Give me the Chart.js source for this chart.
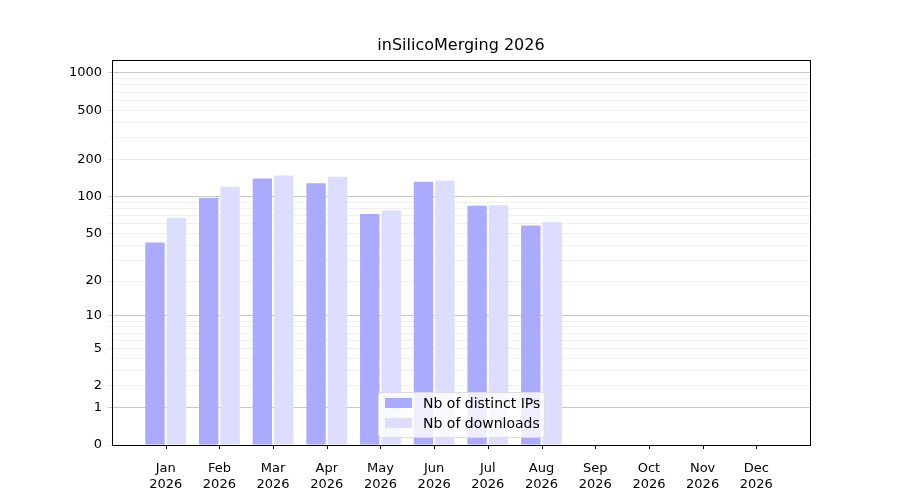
<!DOCTYPE html>
<html><head><meta charset="utf-8">
<script src="https://cdn.jsdelivr.net/npm/chart.js@4"></script>
<style>body{margin:0;background:#fff}#w{position:relative;width:900px;height:500px}
#t{position:absolute;left:311px;width:300px;top:35px;text-align:center;font:16px "DejaVu Sans";color:#000}
#lg{position:absolute;left:378px;top:392px;width:165px;height:44px;background:rgba(255,255,255,0.8);border:1px solid #ddd;border-radius:3px;font:14px "DejaVu Sans";color:#000}
#lg div{display:flex;align-items:center;height:20px;margin-left:6px}#lg span{display:inline-block;width:27px;height:10px;margin-right:11px}</style>
</head><body><div id="w"><canvas id="c" width="900" height="500"></canvas>
<div id="t">inSilicoMerging 2026</div>
<div id="lg"><div><span style="background:#aaaaff"></span>Nb of distinct IPs</div><div><span style="background:#ddddff"></span>Nb of downloads</div></div></div>
<script>
const months=["Jan","Feb","Mar","Apr","May","Jun","Jul","Aug","Sep","Oct","Nov","Dec"];
const year="2026";
const ips=[42,97,140,128,72,132,84,58,null,null,null,null];
const downloads=[67,120,148,145,77,135,85,62,null,null,null,null];
const tickValues=[0,1,2,5,10,20,50,100,200,500,1000];
const minorValues=[3,4,6,7,8,9,30,40,60,70,80,90,300,400,600,700,800,900];
const tf=v=>v==null?null:Math.log10(1+v);
const pad=a=>[null,...a,null];
const labels=['',...months.map(m=>[m,year]),''];
const frame={id:'frame',afterDraw(c){const a=c.chartArea,x=c.ctx;x.save();x.strokeStyle='#000';x.lineWidth=1;x.strokeRect(a.left+.5,a.top+.5,a.right-a.left,a.bottom-a.top);
x.beginPath();c.scales.x.ticks.forEach((t,i)=>{if(i==0||i==labels.length-1)return;const p=Math.round(c.scales.x.getPixelForTick(i))+.5;x.moveTo(p,a.bottom);x.lineTo(p,a.bottom+4);});x.stroke();x.restore();}};
new Chart(document.getElementById('c'),{type:'bar',
data:{labels:labels,datasets:[
{label:'Nb of distinct IPs',data:pad(ips).map(tf),backgroundColor:'#aaaaff'},
{label:'Nb of downloads',data:pad(downloads).map(tf),backgroundColor:'#ddddff'}]},
options:{responsive:false,animation:false,layout:{padding:{right:90,top:60}},
plugins:{legend:{display:false},tooltip:{enabled:false},title:{display:false}},
scales:{x:{offset:false,grid:{display:false},border:{display:false},ticks:{color:'#000',font:{family:'DejaVu Sans',size:13},padding:8,autoSkip:false,maxRotation:0},categoryPercentage:0.82,barPercentage:1,
afterFit(s){s.height=55;}},
y:{min:0,max:3.105,border:{display:false},afterFit(s){s.width=112;},
afterBuildTicks(s){s.ticks=tickValues.map(v=>({value:tf(v),major:true})).concat(minorValues.map(v=>({value:tf(v),minor:true})));},
ticks:{color:'#000',font:{family:'DejaVu Sans',size:13},padding:6,autoSkip:false,callback(v,i){return i<tickValues.length?String(tickValues[i]):'';}},
grid:{tickLength:4,color(ctx){const i=ctx.index;if(i>=tickValues.length)return '#f0f0f0';const v=tickValues[i];return [1,10,100,1000].includes(v)?'#c8c8c8':'#ececec';}}}}},
plugins:[frame]});
</script></body></html>
